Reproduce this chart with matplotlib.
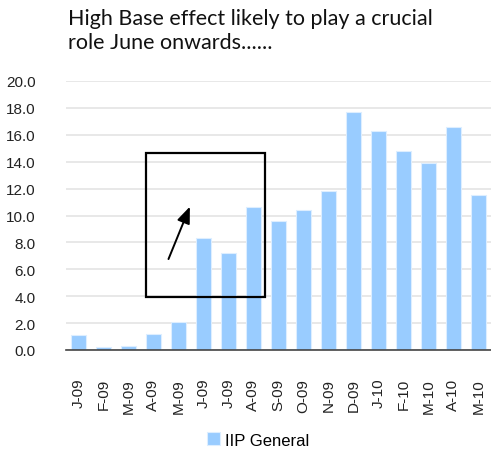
import matplotlib
matplotlib.use("Agg")
import matplotlib.pyplot as plt
from matplotlib.patches import Rectangle

months = ["J-09", "F-09", "M-09", "A-09", "M-09", "J-09", "J-09", "A-09", "S-09",
          "O-09", "N-09", "D-09", "J-10", "F-10", "M-10", "A-10", "M-10"]
iip_general = [1.1, 0.2, 0.3, 1.2, 2.1, 8.3, 7.2, 10.6, 9.6,
               10.4, 11.8, 17.7, 16.3, 14.8, 13.9, 16.6, 11.5]

plt.rcParams["font.family"] = ["Liberation Sans", "DejaVu Sans"]

fig = plt.figure(figsize=(4.91, 4.52), dpi=100)
ax = fig.add_axes([66 / 491, 1 - 351 / 452, (492 - 66) / 491, (351 - 82) / 452])

x = list(range(len(months)))
ax.bar(x, iip_general, width=0.62, color="#99CCFF", edgecolor="#DDEEFF",
       linewidth=0.8, label="IIP General", zorder=2)

ax.set_xlim(-0.5, len(months) - 0.45)
ax.set_ylim(0, 20)
ax.set_yticks([i * 2 for i in range(11)])
ax.set_yticklabels([f"{i * 2:.1f}" for i in range(11)], fontsize=11, color="#222222")
ax.set_xticks(x)
ax.set_xticklabels(months, rotation=90, fontsize=11, color="#222222")
ax.tick_params(axis="y", length=0, pad=22)
ax.tick_params(axis="x", length=0, pad=20)
ax.grid(axis="y", color="#E4E4E4", linewidth=1.2, zorder=0)
for s in ["left", "right", "top"]:
    ax.spines[s].set_visible(False)
ax.spines["bottom"].set_color("#444444")
ax.spines["bottom"].set_linewidth(1.2)

# highlight box + arrow
ax.add_patch(Rectangle((2.7, 3.92), 4.78, 10.73, fill=False, edgecolor="black",
                       linewidth=1.6, zorder=3, clip_on=False))
ax.annotate("", xy=(4.5, 10.85), xytext=(3.56, 6.57),
            arrowprops=dict(arrowstyle="-|>,head_length=1.0,head_width=0.4",
                            color="black", lw=1.4), zorder=4)

fig.text(68 / 491, 1 - 9 / 452, "High Base effect likely to play a crucial\nrole June onwards......",
         fontsize=15.5, family=["Lato", "DejaVu Sans"], color="#111111",
         va="top", ha="left", linespacing=1.25)

ax.legend(loc="center", bbox_to_anchor=(258 / 491, 1 - 441 / 452),
          bbox_transform=fig.transFigure, frameon=False, fontsize=12,
          handlelength=0.8, handleheight=0.8, handletextpad=0.3)

fig.savefig("out.png", dpi=100)
